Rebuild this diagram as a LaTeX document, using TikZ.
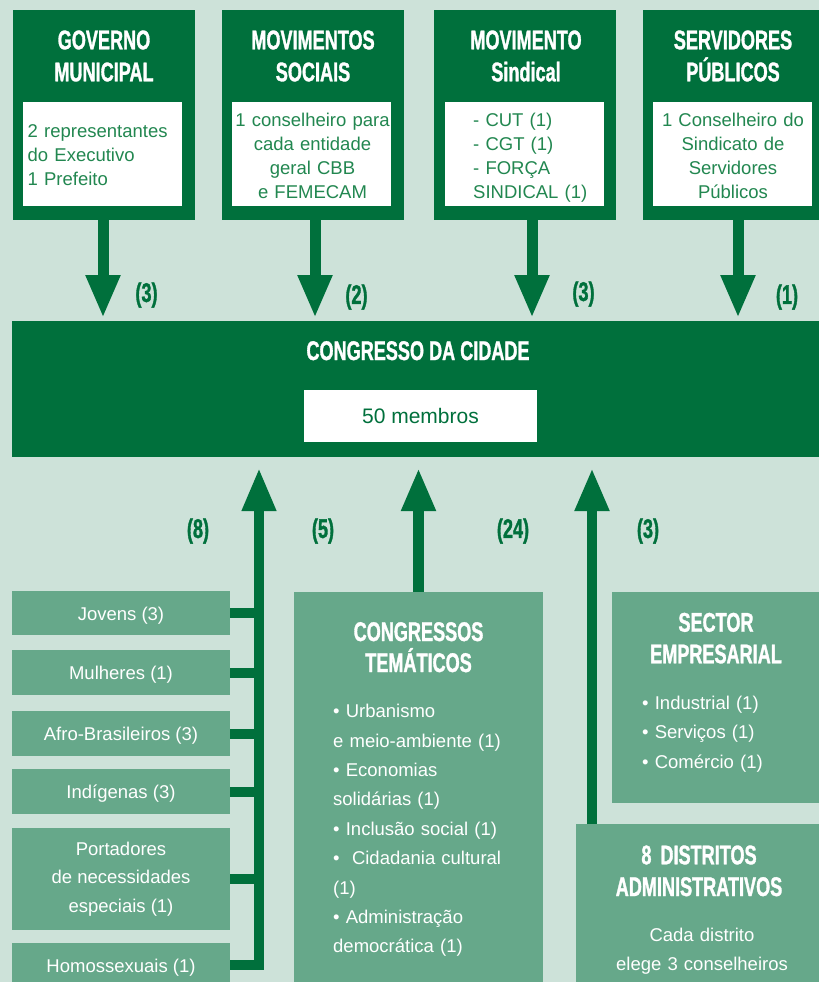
\documentclass[tikz,border=0pt]{standalone}
\usepackage{fontspec}
\setmainfont{Liberation Sans}
\newfontfamily\condfont[FakeStretch=0.67,FakeBold=1.2]{Liberation Sans}
\usetikzlibrary{arrows.meta}
\definecolor{bg}{RGB}{205,226,217}
\definecolor{dk}{RGB}{0,112,60}
\definecolor{md}{RGB}{102,168,138}
\definecolor{tx}{RGB}{34,135,80}
\tikzset{
  darkbox/.style={fill=dk, draw=none, anchor=north west, inner sep=0pt, outer sep=0pt},
  whitebox/.style={fill=white, draw=none, anchor=north west, inner sep=0pt, outer sep=0pt},
  medbox/.style={fill=md, draw=none, anchor=north west, inner sep=0pt, outer sep=0pt,
    text=white, font=\fontsize{18.5}{28.5}\selectfont, align=center},
  onebox/.style={medbox, minimum width=218pt, text height=14pt, text depth=0pt},
  title/.style={font=\condfont\bfseries\fontsize{27}{32}\selectfont, text=white,
    align=center, inner sep=0pt, anchor=base},
  body/.style={font=\fontsize{18.5}{24}\selectfont, text=tx, inner sep=0pt},
  wbody/.style={font=\fontsize{18.5}{29.4}\selectfont, text=white, inner sep=0pt},
  lbl/.style={font=\condfont\bfseries\fontsize{27}{27}\selectfont, text=dk, inner sep=0pt},
  bigarrow/.style={draw=dk, line width=11pt, line join=miter,
    -{Triangle[width=32pt,length=43pt]}},
  branch/.style={draw=dk, line width=10pt},
}
\begin{document}
\begin{tikzpicture}[x=1pt,y=-1pt]
\useasboundingbox[fill=bg] (0,0) rectangle (819,982);

% ---------- top boxes ----------
\node[darkbox, minimum width=182pt, minimum height=210pt] (gov) at (13,10) {};
\node[whitebox, minimum width=159pt, minimum height=104pt] (govw) at (23,102) {};
\node[title, text width=182pt] (govt) at (104,49.3) {GOVERNO\\MUNICIPAL};
\node[body, text width=155pt, align=left, anchor=base west] (govx) at (27.5,137)
  {2 representantes\\do Executivo\\1 Prefeito};

\node[darkbox, minimum width=182pt, minimum height=210pt] (mov) at (222,10) {};
\node[whitebox, minimum width=159pt, minimum height=104pt] (movw) at (232,102) {};
\node[title, text width=182pt] (movt) at (313,49.3) {MOVIMENTOS\\SOCIAIS};
\node[body, text width=159pt, align=center, anchor=base] (movx) at (312.5,126.7)
  {1 conselheiro para\\cada entidade\\geral CBB\\e FEMECAM};

\node[darkbox, minimum width=182pt, minimum height=210pt] (sin) at (434,10) {};
\node[whitebox, minimum width=159pt, minimum height=104pt] (sinw) at (445,102) {};
\node[title, text width=182pt] (sint) at (526,49.3) {MOVIMENTO\\Sindical};
\node[body, text width=130pt, align=left, anchor=base west] (sinx) at (473,126.7)
  {- CUT (1)\\- CGT (1)\\- FORÇA\\SINDICAL (1)};

\node[darkbox, minimum width=176pt, minimum height=210pt] (ser) at (643,10) {};
\node[whitebox, minimum width=159pt, minimum height=104pt] (serw) at (653,102) {};
\node[title, text width=176pt] (sert) at (733,49.3) {SERVIDORES\\PÚBLICOS};
\node[body, text width=159pt, align=center, anchor=base] (serx) at (733,126.7)
  {1 Conselheiro do\\Sindicato de\\Servidores\\Públicos};

% ---------- central box ----------
\node[darkbox, minimum width=807pt, minimum height=136pt] (city) at (12,321) {};
\node[title] (cityt) at (418,360) {CONGRESSO DA CIDADE};
\node[whitebox, minimum width=233pt, minimum height=52pt] (cityw) at (304,390) {};
\node[font=\fontsize{21}{21}\selectfont, text=dk, inner sep=0pt] (cityx) at (cityw.center) {50 membros};

% ---------- top arrows ----------
\draw[bigarrow, shorten >=3pt] ([xshift=-1pt]gov.south) -- ([xshift=-1pt]gov.south |- city.north);
\draw[bigarrow, shorten >=3pt] ([xshift=2pt]mov.south) -- ([xshift=2pt]mov.south |- city.north);
\draw[bigarrow, shorten >=3pt] ([xshift=7pt]sin.south) -- ([xshift=7pt]sin.south |- city.north);
\draw[bigarrow, shorten >=3pt] ([xshift=7pt]ser.south) -- ([xshift=7pt]ser.south |- city.north);

\node[lbl] (l1) at (146.5,295) {(3)};
\node[lbl] (l2) at (356.5,297) {(2)};
\node[lbl] (l3) at (583.5,294) {(3)};
\node[lbl] (l4) at (787,297) {(1)};

% ---------- bottom tips ----------
\coordinate (tipL) at (259,468);
\coordinate (tipM) at (419,468);
\coordinate (tipR) at (592,468);

% ---------- left boxes ----------
\node[onebox, minimum height=44pt] (jov) at (12,591) {Jovens (3)};
\node[onebox, minimum height=45pt] (mul) at (12,650) {Mulheres (1)};
\node[onebox, minimum height=45pt] (afr) at (12,711) {Afro-Brasileiros (3)};
\node[onebox, minimum height=45pt] (ind) at (12,769) {Indígenas (3)};
\node[medbox, minimum width=218pt, minimum height=102pt] (por) at (12,828)
  {Portadores\\de necessidades\\especiais (1)};
\node[onebox, minimum height=44pt] (hom) at (12,943) {Homossexuais (1)};

\draw[bigarrow, line width=10pt] (hom.east) -| (tipL);
\draw[branch] (jov.east) -- (jov.east -| tipL);
\draw[branch] (mul.east) -- (mul.east -| tipL);
\draw[branch] (afr.east) -- (afr.east -| tipL);
\draw[branch] (ind.east) -- (ind.east -| tipL);
\draw[branch] (por.east) -- (por.east -| tipL);

% ---------- congressos tematicos ----------
\node[medbox, minimum width=249pt, minimum height=400pt] (ct) at (294,592) {};
\node[title, text width=249pt, font=\condfont\bfseries\fontsize{27}{31}\selectfont] (ctt) at (418.5,641) {CONGRESSOS\\TEMÁTICOS};
\node[wbody, text width=205pt, align=left, anchor=base west] (ctx) at (333,717.7)
  {• Urbanismo\\e meio-ambiente (1)\\• Economias\\solidárias (1)\\• Inclusão social (1)\\•\ \ Cidadania cultural\\(1)\\• Administração\\democrática (1)};
\draw[bigarrow, line width=10.5pt] (ct.north) -- (ct.north |- tipM);

% ---------- sector empresarial ----------
\node[medbox, minimum width=207pt, minimum height=211pt] (sec) at (612,592) {};
\node[title, text width=207pt, font=\condfont\bfseries\fontsize{27}{31.6}\selectfont] (sect) at (716,631.7) {SECTOR\\EMPRESARIAL};
\node[wbody, text width=170pt, align=left, anchor=base west, font=\fontsize{18.5}{29.5}\selectfont] (secx) at (642,709.3)
  {• Industrial (1)\\• Serviços (1)\\• Comércio (1)};

% ---------- distritos ----------
\node[medbox, minimum width=243pt, minimum height=158pt] (dis) at (576,824) {};
\node[title, text width=243pt, font=\condfont\bfseries\fontsize{27}{31.7}\selectfont] (dist) at (699,864.3) {8 DISTRITOS\\ADMINISTRATIVOS};
\node[wbody, text width=230pt, align=center, anchor=base, font=\fontsize{18.5}{28.5}\selectfont] (disx) at (702,941.7)
  {Cada distrito\\elege 3 conselheiros};
\draw[bigarrow, line width=10.5pt] (dis.north -| tipR) -- (tipR);

% ---------- bottom labels ----------
\node[lbl] (b1) at (198,531) {(8)};
\node[lbl] (b2) at (323,531) {(5)};
\node[lbl] (b3) at (513,531) {(24)};
\node[lbl] (b4) at (648,531) {(3)};
\end{tikzpicture}
\end{document}
